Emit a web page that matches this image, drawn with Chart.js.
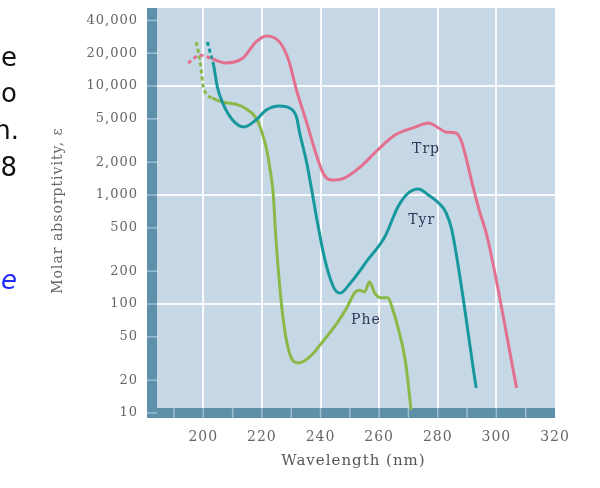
<!DOCTYPE html>
<html>
<head>
<meta charset="utf-8">
<script src="https://cdn.jsdelivr.net/npm/chart.js@4.4.0/dist/chart.umd.min.js"></script>
<style>
  body { margin: 0; background: #ffffff; }
  #wrap { position: relative; width: 600px; height: 488px; overflow: hidden; }
  canvas { position: absolute; left: 0; top: 0; }
  .slide { position: absolute; left: -100px; width: 117px; text-align: right;
           font: 26px "DejaVu Sans", sans-serif; line-height: 26px; color: #111; }
</style>
</head>
<body>
<div id="wrap">
  <canvas id="absChart" width="600" height="488"></canvas>
  <div class="slide" style="top:44px">e</div>
  <div class="slide" style="top:80px">o</div>
  <div class="slide" style="top:117px; width:119px">n.</div>
  <div class="slide" style="top:154px">8</div>
  <div class="slide" style="top:267px; color:#1f2bff; font-style:italic">e</div>
</div>
<script>
// Absorption spectra of aromatic amino acids (molar absorptivity vs wavelength)
const trpNm = [194.8, 199, 203.1, 207.6, 213.5, 218, 221.5, 226, 229.1, 231.8, 235.3, 238.8, 241.2, 243.9, 248.1,
  253.6, 259.5, 265.4, 272.3, 276.8, 280.3, 282.7, 286.2, 287.9, 289.6, 291.7, 294.1, 296.9, 306.9];
const trpEps = [16300, 19200, 17700, 16300, 18100, 25400, 28800, 25400, 17300, 9200, 4600, 2230, 1530, 1370, 1430,
  1810, 2590, 3550, 4200, 4580, 4120, 3790, 3710, 3200, 2230, 1290, 730, 410, 17];

const tyrNm = [201.4, 202.4, 203.5, 204.8, 206.6, 210, 213.8, 218, 221.5, 226, 229.4, 231.8, 232.9, 235.3, 237,
  238.8, 241.5, 244.6, 246.7, 250.2, 256.1, 261.9, 266.4, 269.9, 273.4, 276.8, 280.3, 282.7, 284.8, 293.1];
const tyrEps = [25400, 20100, 15600, 9800, 7000, 4880, 4210, 4880, 6030, 6560, 6290, 5200, 3710, 1970, 1110,
  590, 254, 140, 126, 156, 254, 412, 776, 1040, 1135, 1000, 845, 700, 477, 17];

const pheNm = [197.6, 199, 200, 203.1, 206.6, 212.1, 215.2, 218, 220.1, 221.5, 222.8, 223.9, 224.6, 225.6, 227.3,
  229.4, 232.5, 236.3, 241.2, 245.7, 249.1, 251.6, 253.3, 255, 256.7, 258.5, 260.6, 263, 264.7, 266.4, 268.9, 270.9];
const pheEps = [25400, 16300, 9800, 7770, 7130, 6690, 6030, 5080, 3700, 2700, 1700, 1000, 477, 205, 71,
  35.5, 28.8, 32.7, 46.8, 67, 94, 126, 134, 129, 159, 126, 114, 114, 88, 61.5, 30.6, 10.7];

// the measured part starts here; before it the curves are dashed
const trpDashEnd = 203.1;
const tyrDashEnd = 203.5;
const pheDashEnd = 203.1;

const xTicks = [200, 220, 240, 260, 280, 300, 320];
const yTicks = [10, 20, 50, 100, 200, 500, 1000, 2000, 5000, 10000, 20000, 40000];
const yGridAt = [100, 1000, 10000];

const curveLabels = [
  { text: 'Trp', nm: 276, eps: 2600 },
  { text: 'Tyr', nm: 274.5, eps: 590 },
  { text: 'Phe', nm: 255.5, eps: 71 }
];

const pts = (xs, ys) => xs.map((x, i) => ({ x: x, y: ys[i] }));

function makeSet(label, xs, ys, color, dashEnd) {
  return {
    label: label,
    data: pts(xs, ys),
    borderColor: color,
    borderWidth: 3,
    pointRadius: 0,
    cubicInterpolationMode: 'monotone',
    segment: {
      borderDash: ctx => ctx.p1.parsed.x <= dashEnd ? [4, 3] : undefined
    }
  };
}

// plot background, thick axis frame and curve names
const framePlugin = {
  id: 'framePlugin',
  beforeDraw(chart) {
    const { ctx, chartArea: a } = chart;
    ctx.letterSpacing = '1px'; // the printed figure's type runs wide
    ctx.save();
    ctx.fillStyle = '#c6d7e6';
    ctx.fillRect(a.left, a.top, a.right - a.left, a.bottom - a.top);
    ctx.restore();
  },
  beforeDatasetsDraw(chart) {
    const { ctx, chartArea: a, scales } = chart;
    ctx.save();
    ctx.fillStyle = '#5e90aa';
    ctx.fillRect(a.left - 5, a.top, 10, a.bottom + 5 - a.top);
    ctx.fillRect(a.left - 5, a.bottom - 5, a.right - a.left + 5, 10);
    ctx.strokeStyle = '#9dbfd2';
    ctx.lineWidth = 1.5;
    yTicks.forEach(v => {
      const py = scales.y.getPixelForValue(v);
      ctx.beginPath(); ctx.moveTo(a.left - 5, py); ctx.lineTo(a.left + 5, py); ctx.stroke();
    });
    for (let v = 190; v < 320; v += 10) {
      const px = scales.x.getPixelForValue(v);
      ctx.beginPath(); ctx.moveTo(px, a.bottom - 5); ctx.lineTo(px, a.bottom + 5); ctx.stroke();
    }
    ctx.restore();
  },
  afterDatasetsDraw(chart) {
    const { ctx, scales } = chart;
    ctx.save();
    ctx.font = '14px "DejaVu Serif", serif';
    ctx.fillStyle = '#2e3758';
    ctx.textAlign = 'center';
    ctx.textBaseline = 'middle';
    curveLabels.forEach(l => {
      ctx.fillText(l.text, scales.x.getPixelForValue(l.nm), scales.y.getPixelForValue(l.eps));
    });
    ctx.restore();
  }
};

Chart.defaults.font.family = '"DejaVu Serif", serif';

new Chart(document.getElementById('absChart').getContext('2d'), {
  type: 'line',
  data: {
    datasets: [
      makeSet('Trp', trpNm, trpEps, '#e2708e', trpDashEnd),
      makeSet('Tyr', tyrNm, tyrEps, '#17989c', tyrDashEnd),
      makeSet('Phe', pheNm, pheEps, '#8bb947', pheDashEnd)
    ]
  },
  options: {
    responsive: false,
    animation: false,
    layout: { padding: { left: 50, right: 45, top: 8, bottom: 10 } },
    plugins: { legend: { display: false }, tooltip: { enabled: false } },
    scales: {
      x: {
        type: 'linear',
        min: 182.5,
        max: 320,
        afterBuildTicks: scale => { scale.ticks = xTicks.map(v => ({ value: v })); },
        afterFit: scale => {
          scale.height = 65;
          scale.paddingLeft = 0;
          scale.paddingRight = 0;
        },
        border: { display: false },
        grid: {
          drawTicks: false,
          lineWidth: 2,
          color: ctx => ctx.tick && ctx.tick.value < 320 ? 'rgba(255,255,255,0.85)' : 'transparent'
        },
        ticks: { padding: 16, color: '#666666', font: { size: 14 }, maxRotation: 0 },
        title: {
          display: true,
          text: 'Wavelength (nm)',
          color: '#555555',
          font: { size: 15 },
          padding: { top: 0, bottom: 8 }
        }
      },
      y: {
        type: 'logarithmic',
        min: 10,
        max: 52000,
        afterBuildTicks: scale => { scale.ticks = yTicks.map(v => ({ value: v })); },
        afterFit: scale => {
          scale.width = 102;
          scale.paddingTop = 0;
          scale.paddingBottom = 0;
        },
        border: { display: false },
        grid: {
          drawTicks: false,
          lineWidth: 2,
          color: ctx => ctx.tick && yGridAt.includes(ctx.tick.value) ? 'rgba(255,255,255,0.85)' : 'transparent'
        },
        ticks: {
          padding: 14,
          color: '#666666',
          font: { size: 13 },
          callback: v => Number(v).toLocaleString('en-US')
        },
        title: {
          display: true,
          text: 'Molar absorptivity, ε',
          color: '#666666',
          font: { size: 14 },
          padding: 0
        }
      }
    }
  },
  plugins: [framePlugin]
});
</script>
</body>
</html>
